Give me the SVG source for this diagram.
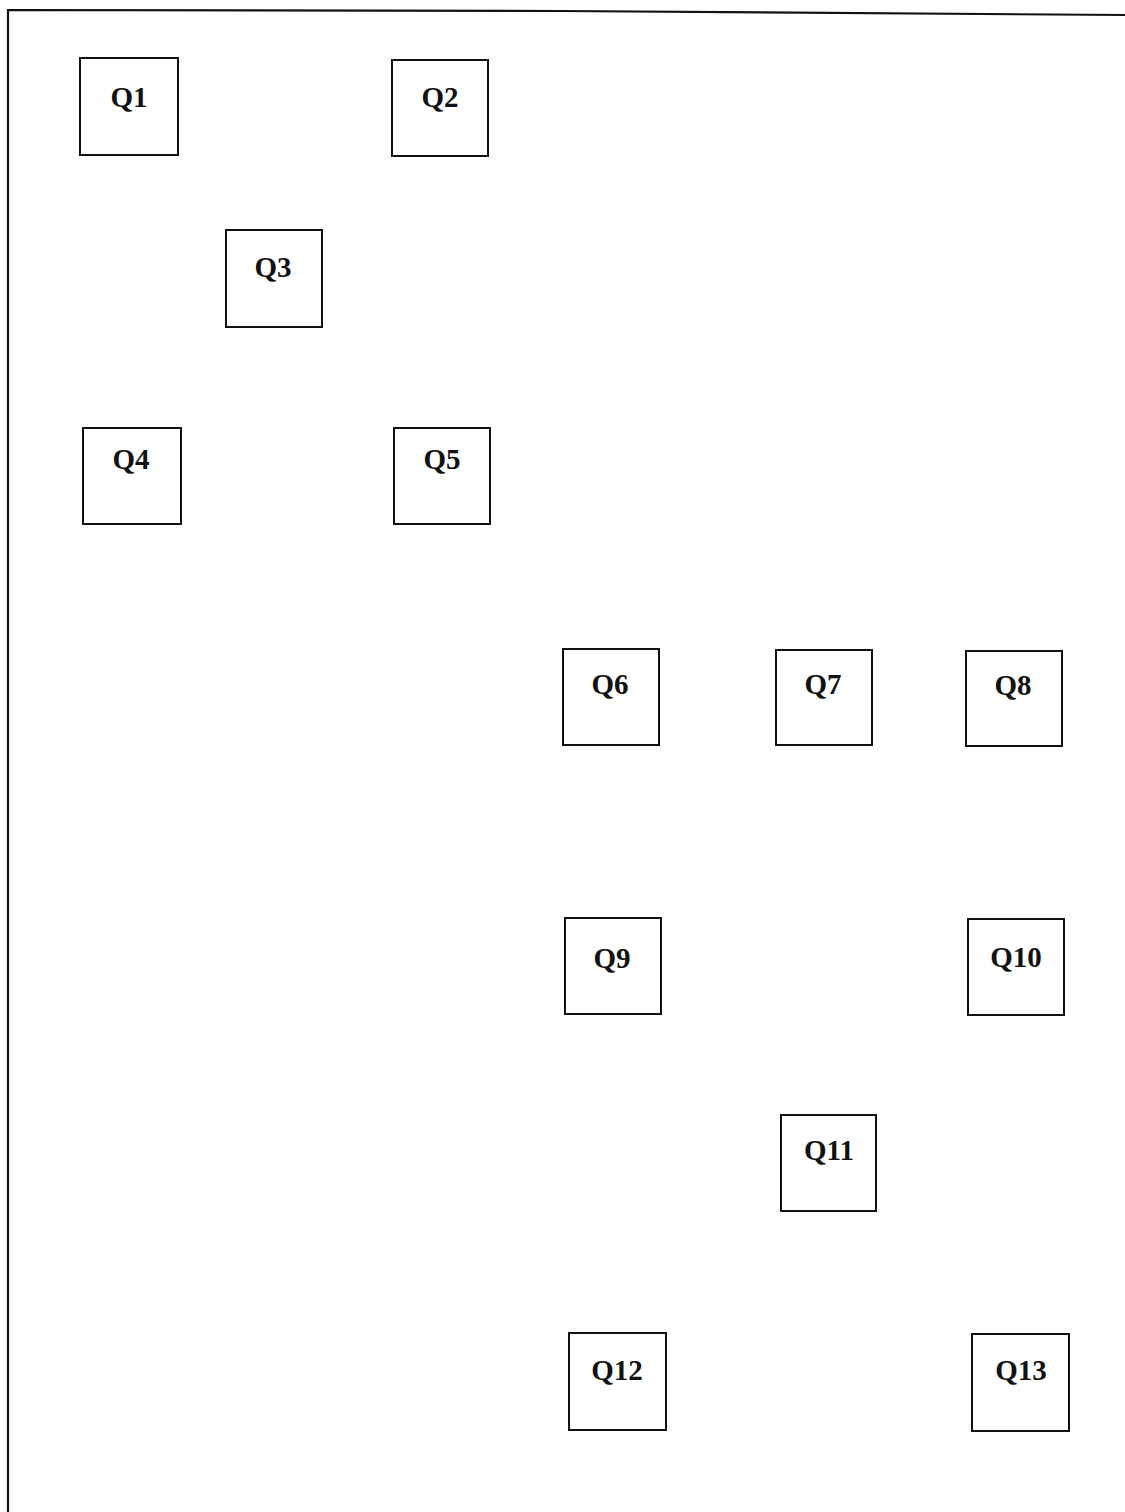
<svg xmlns="http://www.w3.org/2000/svg" width="1125" height="1512" viewBox="0 0 1125 1512">
<style>
.box{fill:#fff;stroke:#111;stroke-width:2}
.lbl{font-family:"Liberation Serif","Times New Roman",serif;font-weight:bold;font-size:29px;fill:#111;text-anchor:middle}
.frame{fill:none;stroke:#111;stroke-width:2.2}
</style>
<rect width="1125" height="1512" fill="#fff"/>
<path class="frame" d="M8,1512 L8,10 L560,11 L1125,15"/>
<g id="Q1"><rect class="box" x="80" y="58" width="98" height="97"/><text class="lbl" x="129" y="107">Q1</text></g>
<g id="Q2"><rect class="box" x="392" y="60" width="96" height="96"/><text class="lbl" x="440" y="107">Q2</text></g>
<g id="Q3"><rect class="box" x="226" y="230" width="96" height="97"/><text class="lbl" x="273" y="277">Q3</text></g>
<g id="Q4"><rect class="box" x="83" y="428" width="98" height="96"/><text class="lbl" x="131" y="469">Q4</text></g>
<g id="Q5"><rect class="box" x="394" y="428" width="96" height="96"/><text class="lbl" x="442" y="469">Q5</text></g>
<g id="Q6"><rect class="box" x="563" y="649" width="96" height="96"/><text class="lbl" x="610" y="694">Q6</text></g>
<g id="Q7"><rect class="box" x="776" y="650" width="96" height="95"/><text class="lbl" x="823" y="694">Q7</text></g>
<g id="Q8"><rect class="box" x="966" y="651" width="96" height="95"/><text class="lbl" x="1013" y="695">Q8</text></g>
<g id="Q9"><rect class="box" x="565" y="918" width="96" height="96"/><text class="lbl" x="612" y="968">Q9</text></g>
<g id="Q10"><rect class="box" x="968" y="919" width="96" height="96"/><text class="lbl" x="1016" y="967">Q10</text></g>
<g id="Q11"><rect class="box" x="781" y="1115" width="95" height="96"/><text class="lbl" x="829" y="1160">Q11</text></g>
<g id="Q12"><rect class="box" x="569" y="1333" width="97" height="97"/><text class="lbl" x="617" y="1380">Q12</text></g>
<g id="Q13"><rect class="box" x="972" y="1334" width="97" height="97"/><text class="lbl" x="1021" y="1380">Q13</text></g>
<g id="connectors"></g>
</svg>
